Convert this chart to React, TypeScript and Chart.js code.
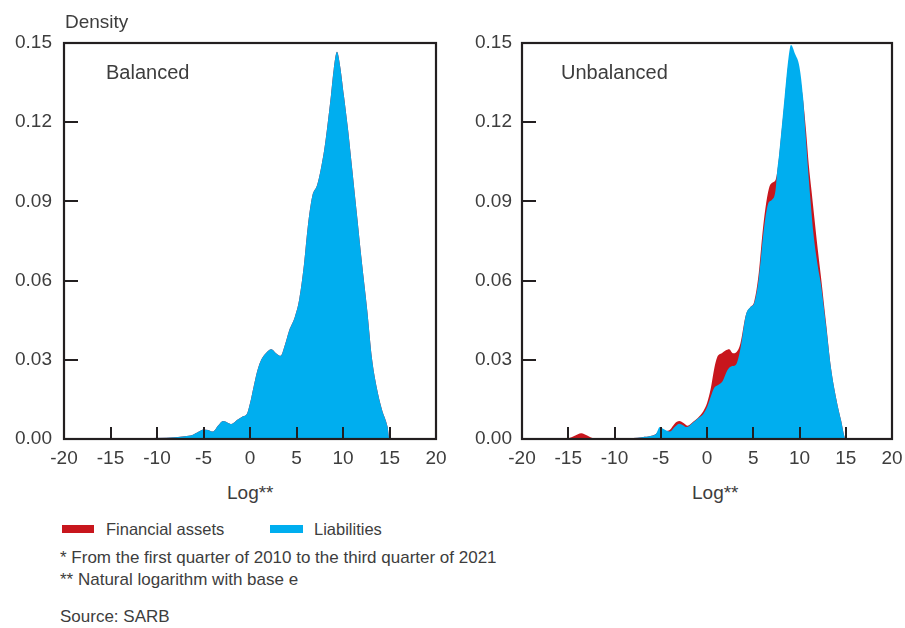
import React, { useEffect, useRef } from "react";
import { Chart, registerables } from "chart.js";

Chart.register(...registerables);

// ---------- data ----------
const xTicks = [-20, -15, -10, -5, 0, 5, 10, 15, 20];
const yTicks = [0, 0.03, 0.06, 0.09, 0.12, 0.15];

const balancedX = [-20, -17, -16, -12, -9, -7, -6.2, -5.5, -5.0, -4.5, -4.0, -3.4, -2.9, -2.4, -2.0, -1.4, -0.8, -0.3, 0, 0.4, 0.8, 1.2, 1.7, 2.3, 2.8, 3.3, 3.7, 4.2, 4.8, 5.3, 5.8, 6.2, 6.7, 7.2, 7.6, 8.0, 8.3, 8.7, 9.0, 9.35, 9.7, 10.1, 10.55, 11.0, 11.5, 12.0, 12.6, 13.1, 13.6, 14.2, 14.8, 15.0, 20];
const balancedLiabilities = [0, 0, 0.0003, 0.0004, 0.0005, 0.001, 0.0015, 0.0028, 0.0036, 0.0034, 0.0028, 0.0052, 0.0068, 0.0062, 0.0057, 0.0072, 0.0085, 0.0098, 0.0135, 0.02, 0.026, 0.03, 0.0325, 0.034, 0.0325, 0.0315, 0.035, 0.041, 0.046, 0.053, 0.066, 0.08, 0.092, 0.096, 0.102, 0.11, 0.118, 0.13, 0.14, 0.1467, 0.141, 0.13, 0.117, 0.102, 0.085, 0.068, 0.049, 0.031, 0.02, 0.011, 0.0045, 0, 0];
// in the balanced panel the assets curve lies entirely beneath the liabilities curve
const balancedAssets = [0, 0, 0.0003, 0.0004, 0.0005, 0.001, 0.0015, 0.0028, 0.0036, 0.0034, 0.0028, 0.0052, 0.0068, 0.0062, 0.0057, 0.0072, 0.0085, 0.0098, 0.0135, 0.02, 0.026, 0.03, 0.0325, 0.034, 0.0325, 0.0315, 0.035, 0.041, 0.046, 0.053, 0.066, 0.08, 0.092, 0.096, 0.102, 0.11, 0.118, 0.13, 0.14, 0.1467, 0.141, 0.13, 0.117, 0.102, 0.085, 0.068, 0.049, 0.031, 0.02, 0.011, 0.0045, 0, 0];

const unbalancedLiabX = [-20, -10, -8, -7, -6, -5.5, -5.1, -4.8, -4.4, -4.0, -3.5, -3.0, -2.6, -2.2, -1.6, -1.0, -0.4, 0, 0.4, 0.8, 1.2, 1.7, 2.2, 2.6, 3.1, 3.6, 4.2, 4.7, 5.1, 5.6, 6.1, 6.6, 7.0, 7.4, 7.6, 7.8, 8.05, 8.4, 8.8, 9.08, 9.5, 9.99, 10.38, 10.63, 10.88, 11.2, 11.5, 12.0, 12.3, 12.9, 13.4, 14.0, 14.5, 15.0, 20];
const unbalancedLiabilities = [0, 0, 0.0004, 0.0007, 0.0012, 0.002, 0.0045, 0.004, 0.0032, 0.0028, 0.0045, 0.0058, 0.0052, 0.0045, 0.006, 0.0078, 0.0095, 0.012, 0.016, 0.0195, 0.0205, 0.022, 0.026, 0.0275, 0.028, 0.034, 0.047, 0.05, 0.0515, 0.061, 0.078, 0.089, 0.0905, 0.094, 0.102, 0.108, 0.117, 0.13, 0.144, 0.1492, 0.146, 0.141, 0.1297, 0.117, 0.1044, 0.09, 0.078, 0.065, 0.059, 0.042, 0.027, 0.0148, 0.007, 0, 0];

const unbalancedAssetsX = [-20, -16, -15, -14.3, -13.6, -12.9, -12.3, -10, -8, -7, -6, -5.5, -5.1, -4.5, -4.0, -3.5, -3.0, -2.5, -2.1, -1.5, -1.0, -0.4, 0, 0.4, 0.8, 1.1, 1.6, 2.0, 2.4, 2.8, 3.2, 3.6, 4.2, 4.7, 5.1, 5.6, 6.0, 6.3, 6.7, 7.0, 7.4, 7.7, 8.05, 8.4, 8.8, 9.08, 9.5, 10.0, 10.4, 10.7, 11.0, 11.3, 11.6, 12.0, 12.3, 12.9, 13.4, 14.0, 14.5, 15.0, 20];
const unbalancedAssets = [0, 0.0002, 0.0003, 0.0012, 0.0022, 0.0012, 0.0003, 0.0003, 0.0004, 0.0007, 0.0012, 0.002, 0.0035, 0.003, 0.0035, 0.0058, 0.0068, 0.006, 0.005, 0.0065, 0.008, 0.0105, 0.0135, 0.019, 0.027, 0.031, 0.0325, 0.0335, 0.034, 0.0325, 0.033, 0.036, 0.047, 0.05, 0.052, 0.063, 0.078, 0.087, 0.095, 0.097, 0.098, 0.104, 0.116, 0.128, 0.142, 0.147, 0.143, 0.138, 0.128, 0.117, 0.104, 0.094, 0.084, 0.071, 0.062, 0.043, 0.027, 0.0148, 0.007, 0, 0];

// ---------- styles ----------
const BLUE = "#00AEEF";
const RED = "#C8161D";
const AXIS = "#231F20";
const TEXT = "#3d3d3d";
const FONT = "'Liberation Sans', Arial, sans-serif";

const pts = (xs: number[], ys: number[]) => xs.map((x, i) => ({ x, y: ys[i] }));

const framePlugin = {
  id: "frame",
  afterDatasetsDraw(chart: any) {
    const { ctx, chartArea: a, scales } = chart;
    const x = scales.x;
    const y = scales.y;
    ctx.save();
    ctx.strokeStyle = AXIS;
    ctx.lineWidth = 2;
    ctx.beginPath();
    xTicks.slice(1, -1).forEach((v) => {
      const px = Math.round(x.getPixelForValue(v));
      ctx.moveTo(px, a.bottom);
      ctx.lineTo(px, a.bottom - 12);
    });
    yTicks.slice(1, -1).forEach((v) => {
      const py = Math.round(y.getPixelForValue(v));
      ctx.moveTo(a.left, py);
      ctx.lineTo(a.left + 14, py);
    });
    ctx.stroke();
    ctx.lineWidth = 2.2;
    ctx.strokeRect(a.left, a.top, a.right - a.left, a.bottom - a.top);
    ctx.restore();
  },
};

type PanelProps = {
  left: number;
  width: number;
  yWidth: number;
  padRight: number;
  yPad: number;
  liabX: number[];
  liab: number[];
  assetX: number[];
  assets: number[];
};

const CANVAS_H = 480;

function Panel(p: PanelProps) {
  const ref = useRef<HTMLCanvasElement | null>(null);
  useEffect(() => {
    if (!ref.current) return;
    const chart = new Chart(ref.current, {
      type: "line",
      data: {
        datasets: [
          {
            label: "Liabilities",
            data: pts(p.liabX, p.liab),
            backgroundColor: BLUE,
            borderColor: BLUE,
            borderWidth: 0,
            pointRadius: 0,
            fill: "origin",
            cubicInterpolationMode: "monotone",
            order: 0,
          },
          {
            label: "Financial assets",
            data: pts(p.assetX, p.assets),
            backgroundColor: RED,
            borderColor: RED,
            borderWidth: 0,
            pointRadius: 0,
            fill: "origin",
            cubicInterpolationMode: "monotone",
            order: 1,
          },
        ],
      },
      options: {
        animation: false,
        responsive: false,
        maintainAspectRatio: false,
        layout: { padding: { left: 0, right: p.padRight, top: 43, bottom: 0 } },
        plugins: { legend: { display: false }, tooltip: { enabled: false } },
        scales: {
          x: {
            type: "linear",
            min: -20,
            max: 20,
            afterBuildTicks: (s: any) => {
              s.ticks = xTicks.map((v) => ({ value: v }));
            },
            afterFit: (s: any) => {
              s.height = CANVAS_H - 439;
            },
            grid: { display: false, drawTicks: false, tickLength: 0 },
            border: { display: false },
            ticks: {
              padding: 8,
              maxRotation: 0,
              autoSkip: false,
              color: TEXT,
              font: { family: FONT, size: 19 },
              callback: (v: any) => String(v),
            },
          },
          y: {
            type: "linear",
            min: 0,
            max: 0.15,
            afterBuildTicks: (s: any) => {
              s.ticks = yTicks.map((v) => ({ value: v }));
            },
            afterFit: (s: any) => {
              s.width = p.yWidth;
            },
            grid: { display: false, drawTicks: false, tickLength: 0 },
            border: { display: false },
            ticks: {
              padding: p.yPad,
              autoSkip: false,
              color: TEXT,
              font: { family: FONT, size: 19 },
              callback: (v: any) => Number(v).toFixed(2),
            },
          },
        },
      },
      plugins: [framePlugin],
    } as any);
    return () => chart.destroy();
  }, []);
  return (
    <canvas
      ref={ref}
      width={p.width}
      height={CANVAS_H}
      style={{ position: "absolute", left: p.left, top: 0, width: p.width, height: CANVAS_H }}
    />
  );
}

const txt = (left: number, baseline: number, size: number, text: string) => (
  <div
    style={{
      position: "absolute",
      left,
      top: baseline - 0.8465 * size,
      fontFamily: FONT,
      fontSize: size,
      lineHeight: `${size}px`,
      color: TEXT,
      whiteSpace: "nowrap",
    }}
  >
    {text}
  </div>
);

export default function App() {
  return (
    <div style={{ position: "absolute", left: 0, top: 0, width: 905, height: 628, background: "#fff", overflow: "hidden" }}>
      <Panel
        left={0}
        width={460}
        yWidth={64}
        padRight={24}
        yPad={12}
        liabX={balancedX}
        liab={balancedLiabilities}
        assetX={balancedX}
        assets={balancedAssets}
      />
      <Panel
        left={460}
        width={460}
        yWidth={62}
        padRight={28}
        yPad={10}
        liabX={unbalancedLiabX}
        liab={unbalancedLiabilities}
        assetX={unbalancedAssetsX}
        assets={unbalancedAssets}
      />
      {txt(65, 28.3, 19, "Density")}
      {txt(106, 79.3, 20, "Balanced")}
      {txt(561, 79.3, 20, "Unbalanced")}
      {txt(227, 499.3, 19, "Log**")}
      {txt(692, 499.3, 19, "Log**")}
      <div style={{ position: "absolute", left: 62, top: 525, width: 32, height: 8, background: RED }} />
      <div style={{ position: "absolute", left: 270, top: 525, width: 33, height: 8, background: BLUE }} />
      {txt(106, 535, 16.5, "Financial assets")}
      {txt(314, 535, 16.5, "Liabilities")}
      {txt(60, 563.3, 17, "* From the first quarter of 2010 to the third quarter of 2021")}
      {txt(60, 585, 17, "** Natural logarithm with base e")}
      {txt(60, 622.7, 17, "Source: SARB")}
    </div>
  );
}
